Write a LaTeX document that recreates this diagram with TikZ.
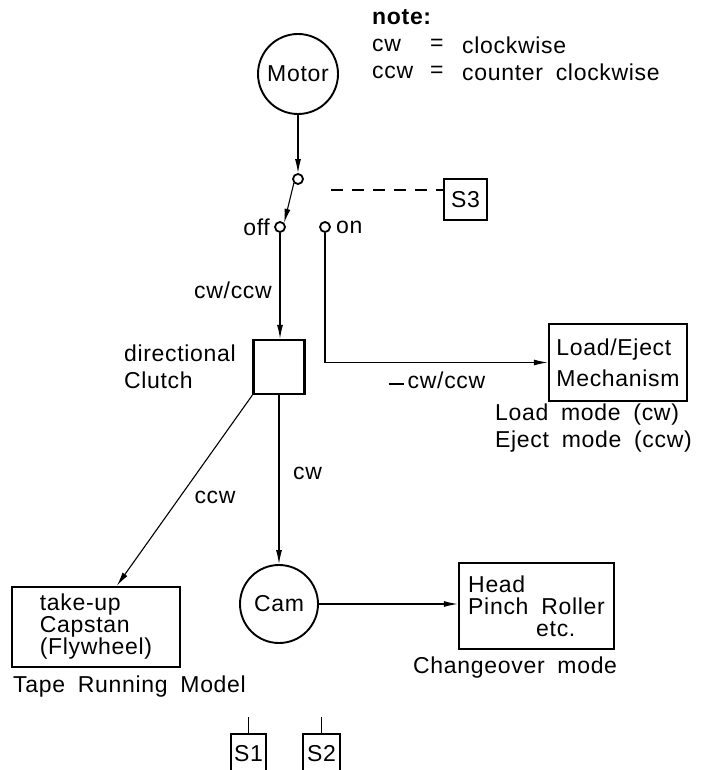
\documentclass[tikz,border=0pt]{standalone}
\usepackage{fontspec}
\setmainfont{Liberation Sans}[LetterSpace=3,WordSpace=1.8]
\usetikzlibrary{arrows.meta,calc}

\tikzset{
  block/.style={draw, line width=2.4pt, inner sep=0pt, align=left},
  wheel/.style={draw, circle, line width=1.9pt, inner sep=0pt},
  contact/.style={draw, circle, line width=1.8pt, minimum size=10pt, inner sep=0pt},
  link/.style={line width=1.1pt},
  flow/.style={link, -{Latex[length=14pt,width=6pt]}},
  lbl/.style={inner sep=0pt, align=left},
  boxtext/.style={font=\fontsize{23}{22}\selectfont},
}

\begin{document}
\begin{tikzpicture}[x=1pt, y=-1pt, font=\fontsize{23}{27}\selectfont]
\useasboundingbox (0,0) rectangle (714,770);

% legend
\node[lbl, anchor=west] (notehead) at (372,17) {\textbf{note:}};
\node[lbl, anchor=west] (cwkey)    at (372,45) {cw};
\node[lbl, anchor=west] (cwequ)    at (430,45) {=};
\node[lbl, anchor=west] (cwval)    at (462,45) {clockwise};
\node[lbl, anchor=west] (ccwkey)   at (372,72) {ccw};
\node[lbl, anchor=west] (ccwequ)   at (430,72) {=};
\node[lbl, anchor=west] (ccwval)   at (462,72) {counter clockwise};

% motor and mode switch
\node[wheel, minimum size=80pt] (motor) at (298,74) {Motor};
\node[contact] (pivot) at (298,179) {};
\node[contact] (off)   at (280,227) {};
\node[contact] (on)    at (325,227) {};
\node[lbl, anchor=east] (offlbl) at ($(off.west)+(-4,0)$) {off};
\node[lbl, anchor=west] (onlbl)  at ($(on.east)+(5,0)$) {on};
\node[block, align=center, minimum width=43pt, minimum height=41pt] (s3) at (465.5,199.5) {S3};
\coordinate (dashstart) at (331,190);

% clutch and loading mechanism
\node[block, minimum width=51pt, minimum height=54pt] (clutch) at (279,367) {};
\node[lbl, anchor=east, font=\fontsize{23}{27}\selectfont] (clutchlbl) at (236,367) {directional\\Clutch};
\node[block, align=left, minimum width=138pt, minimum height=77pt, font=\fontsize{23}{31}\selectfont] (load) at (618,362.5) {Load/Eject\\Mechanism};
\node[lbl, anchor=north east] (loadmode) at (692,404) {Load mode (cw)\\Eject mode (ccw)};

% driven parts
\node[block, boxtext, minimum width=168pt, minimum height=80pt] (takeup) at (96,627) {take-up\\Capstan\\(Flywheel)};
\node[wheel, minimum size=78pt] (cam) at (279,604) {Cam};
\node[block, boxtext, minimum width=155pt, minimum height=86pt] (head) at (536.5,606) {Head\\Pinch Roller\\\hspace*{68pt}etc.};
\node[lbl, anchor=west] (tapelbl)   at (13,687)  {Tape Running Model};
\node[lbl, anchor=west] (changelbl) at (413,668) {Changeover mode};

% sensors
\node[block, align=center, minimum width=35pt, minimum height=40pt] (s1) at (248.5,754) {S1};
\node[block, align=center, minimum width=37pt, minimum height=40pt] (s2) at (321.5,754) {S2};
\coordinate (s1lead) at (248.5,717);
\coordinate (s2lead) at (321.5,717);

% connectors
\draw[flow] (motor.south) -- (pivot.north);
\draw[flow] (pivot.south west) -- (off.north east);
\draw[link, dashed, dash pattern=on 12pt off 9pt] (dashstart) -- (dashstart -| s3.west);
\draw[flow] (off.south) -- (off.south |- clutch.north);
\draw[flow] (on.south) |- (load.west);
\draw[flow] (clutch.south west) -- ($(takeup.north west)+(106,0)$);
\draw[flow] (clutch.south) -- (cam.north);
\draw[flow] (cam.east) -- (cam.east -| head.west);
\draw[link, line width=1.6pt] (s1lead) -- (s1.north);
\draw[link, line width=1.6pt] (s2lead) -- (s2.north);

% connector labels
\node[lbl, anchor=east] (cwccw)   at (272,290) {cw/ccw};
\node[lbl] (loadrot) at (437,380) {\raisebox{0.3ex}{\rule{15pt}{1.3pt}}\hspace{4pt}cw/ccw};
\node[lbl] (ccwlbl) at (215,497) {ccw};
\node[lbl, anchor=west] (cwlbl) at (293,473) {cw};
\end{tikzpicture}
\end{document}
